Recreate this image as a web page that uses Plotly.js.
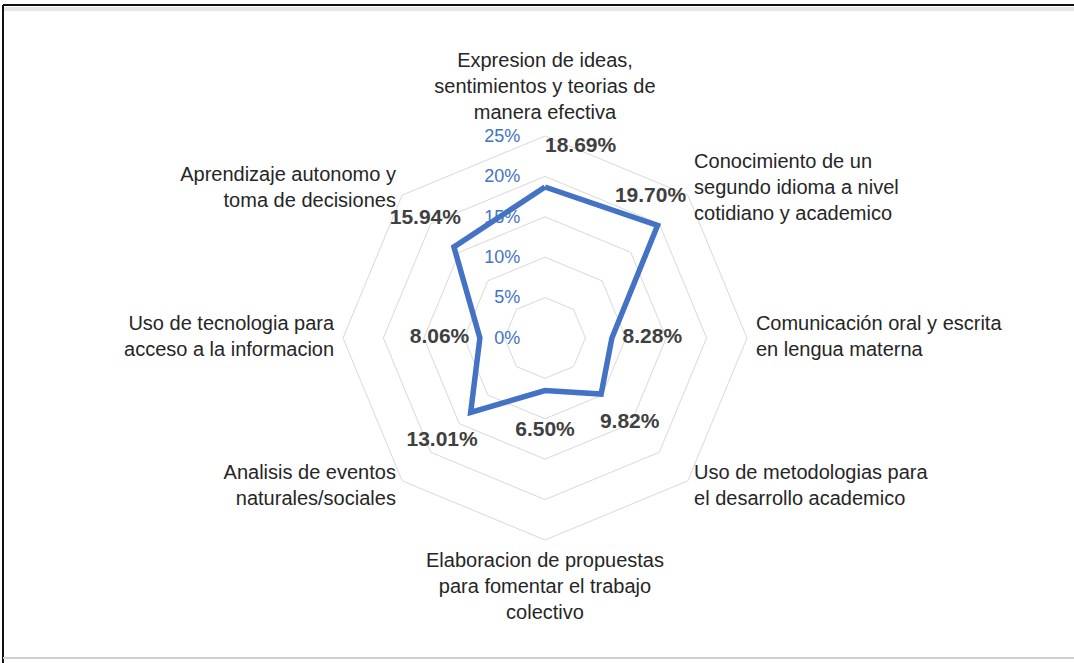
<!DOCTYPE html>
<html>
<head>
<meta charset="utf-8">
<script src="https://cdn.plot.ly/plotly-3.0.1.min.js"></script>
<style>
  html, body { margin: 0; padding: 0; background: #fff; }
  #chart { width: 1074px; height: 663px; }
</style>
</head>
<body>
<div id="chart"></div>
<script>
// Competencias (clockwise from the top)
const categories = [
  "Expresion de ideas,<br>sentimientos y teorias de<br>manera efectiva",
  "Conocimiento de un<br>segundo idioma a nivel<br>cotidiano y academico",
  "Comunicación oral y escrita<br>en lengua materna",
  "Uso de metodologias para<br>el desarrollo academico",
  "Elaboracion de propuestas<br>para fomentar el trabajo<br>colectivo",
  "Analisis de eventos<br>naturales/sociales",
  "Uso de tecnologia para<br>acceso a la informacion",
  "Aprendizaje autonomo y<br>toma de decisiones"
];
const values = [18.69, 19.70, 8.28, 9.82, 6.50, 13.01, 8.06, 15.94];
const radialTicks = [0, 5, 10, 15, 20, 25];

const blue = "#4472C4";
const gridGray = "#d9d9d9";
const font = "Liberation Sans, Arial, sans-serif";
const rMax = radialTicks[radialTicks.length - 1];
// the radial range runs a bit past the last ring so the category text can sit there
const rRange = 28;
const labelGap = 5;   // data labels sit a little outside each point

// angle of each spoke, clockwise from the top
const angles = categories.map((c, i) => i * 360 / categories.length);

// close the polygon
const lineTrace = {
  type: "scatterpolar",
  r: values.concat(values[0]),
  theta: categories.concat(categories[0]),
  mode: "lines",
  line: {color: blue, width: 5.5},
  hoverinfo: "skip"
};

const valueLabels = {
  type: "scatterpolar",
  r: values.map(v => v + labelGap),
  theta: categories,
  mode: "text",
  text: values.map(v => v.toFixed(2) + "%"),
  // top and NE labels are nudged sideways, away from the tick text and the category text
  textposition: angles.map(a => a === 0 ? "middle right" : a === 45 ? "middle left" : "middle center"),
  textfont: {family: font, size: 21, color: "#404040", weight: "bold"},
  cliponaxis: false,
  hoverinfo: "skip"
};

// category names just outside the outer ring
const categoryLabels = {
  type: "scatterpolar",
  r: angles.map(a => rMax + (a % 180 === 0 ? 1.5 : 1.1)),
  theta: categories,
  mode: "text",
  text: categories,
  textposition: angles.map(a => a === 0 ? "top center" : a === 180 ? "bottom center" : a < 180 ? "middle right" : "middle left"),
  textfont: {family: font, size: 20, color: "#262626"},
  cliponaxis: false,
  hoverinfo: "skip"
};

const px = (v, total) => v / total;
const cx = 545, cy = 338, rad = 202 * rRange / rMax;

const layout = {
  width: 1074,
  height: 663,
  margin: {l: 0, r: 0, t: 0, b: 0},
  paper_bgcolor: "#fff",
  showlegend: false,
  font: {family: font, color: "#262626"},
  polar: {
    domain: {x: [px(cx - rad, 1074), px(cx + rad, 1074)], y: [1 - px(cy + rad, 663), 1 - px(cy - rad, 663)]},
    bgcolor: "rgba(0,0,0,0)",
    gridshape: "linear",
    radialaxis: {
      range: [0, rRange],
      tickmode: "array",
      tickvals: radialTicks,
      ticktext: radialTicks.map(t => t + "%"),
      angle: 90,
      tickangle: 90,
      side: "counterclockwise",
      showline: false,
      ticks: "outside",
      ticklen: 18,
      tickcolor: "rgba(0,0,0,0)",
      gridcolor: gridGray,
      gridwidth: 1,
      tickfont: {family: font, size: 18, color: blue}
    },
    angularaxis: {
      direction: "clockwise",
      rotation: 90,
      showgrid: false,
      showline: false,
      ticks: "",
      showticklabels: false
    }
  },
  shapes: [
    // picture frame (top and left edges, with a faint shadow)
    {type: "line", xref: "paper", yref: "paper", x0: px(3, 1074), x1: 1, y0: 1 - px(9, 663), y1: 1 - px(9, 663),
     line: {color: "#e6e6e6", width: 4}},
    {type: "line", xref: "paper", yref: "paper", x0: px(3, 1074), x1: 1, y0: 1 - px(5, 663), y1: 1 - px(5, 663),
     line: {color: "#111", width: 2}},
    {type: "line", xref: "paper", yref: "paper", x0: px(3, 1074), x1: px(3, 1074), y0: 0, y1: 1 - px(5, 663),
     line: {color: "#111", width: 2}},
    {type: "line", xref: "paper", yref: "paper", x0: px(3, 1074), x1: 1, y0: 1 - px(658, 663), y1: 1 - px(658, 663),
     line: {color: "#d0d0d0", width: 2}}
  ]
};

Plotly.newPlot("chart", [lineTrace, valueLabels, categoryLabels], layout, {displayModeBar: false, staticPlot: true});
</script>
</body>
</html>
